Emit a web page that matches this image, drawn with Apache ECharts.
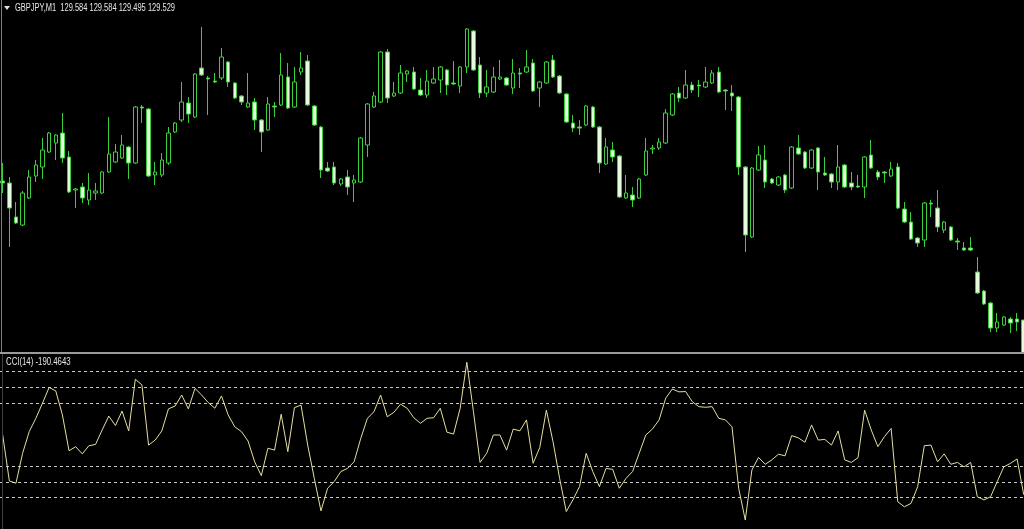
<!DOCTYPE html>
<html>
<head>
<meta charset="utf-8">
<script src="https://cdn.jsdelivr.net/npm/echarts@6/dist/echarts.min.js"></script>
<style>
html,body{margin:0;padding:0;background:#000;}
#chart{width:1024px;height:529px;}
</style>
</head>
<body>
<div id="chart"></div>
<script>
const symbolLabel = 'GBPJPY,M1';
const lastBarText = ['129.584', '129.584', '129.495', '129.529'];
const cciLabel = 'CCI(14) -190.4643';
const cciLevels = [200, 150, 100, -100, -150, -200];

const opens = [129.723,129.721,129.687,129.679,129.706,129.728,129.737,129.752,129.761,129.771,
129.747,129.714,129.717,129.704,129.711,129.711,129.732,129.742,129.746,129.757,
129.741,129.797,129.795,129.729,129.729,129.741,129.772,129.784,129.801,129.787,
129.836,129.826,129.823,129.826,129.842,129.821,129.808,129.797,129.802,129.784,
129.774,129.798,129.799,129.827,129.797,129.832,129.843,129.798,129.777,129.736,
129.737,129.720,129.727,129.721,129.722,129.759,129.797,129.802,129.852,129.808,
129.811,129.830,129.832,129.814,129.809,129.821,129.824,129.834,129.821,129.818,
129.837,129.873,129.839,129.811,129.812,129.825,129.826,129.816,129.831,129.832,
129.841,129.816,129.821,129.844,129.828,129.810,129.781,129.777,129.779,129.797,
129.777,129.740,129.754,129.748,129.706,129.709,129.706,129.729,129.755,129.756,
129.761,129.789,129.811,129.806,129.819,129.819,129.817,129.821,129.832,129.814,
129.811,129.807,129.737,129.667,129.734,129.744,129.725,129.719,129.729,129.716,
129.756,129.752,129.736,129.756,129.731,129.730,129.722,129.739,129.721,129.718,
129.717,129.749,129.732,129.732,129.728,129.737,129.695,129.682,129.666,129.664,
129.701,129.696,129.674,129.677,129.663,129.656,129.656,129.632,129.613,129.601,
129.576,129.579,129.585,129.585,129.584];

const highs = [129.741,129.727,129.702,129.713,129.734,129.744,129.766,129.772,129.770,129.791,
129.753,129.716,129.721,129.731,129.721,129.733,129.787,129.760,129.769,129.758,
129.798,129.799,129.796,129.742,129.751,129.777,129.782,129.822,129.807,129.831,
129.877,129.828,129.831,129.856,129.843,129.822,129.809,129.831,129.806,129.785,
129.807,129.802,129.851,129.841,129.837,129.852,129.849,129.799,129.778,129.742,
129.742,129.726,129.734,129.729,129.767,129.801,129.812,129.853,129.855,129.822,
129.839,129.834,129.837,129.826,129.834,129.837,129.838,129.835,129.843,129.838,
129.876,129.874,129.847,129.834,129.837,129.844,129.827,129.845,129.836,129.854,
129.845,129.823,129.843,129.849,129.829,129.811,129.789,129.784,129.799,129.798,
129.778,129.766,129.762,129.749,129.729,129.717,129.726,129.766,129.759,129.766,
129.795,129.811,129.817,129.834,129.822,129.824,129.837,129.834,129.837,129.815,
129.819,129.808,129.738,129.737,129.758,129.759,129.726,129.728,129.730,129.758,
129.769,129.753,129.755,129.757,129.747,129.731,129.759,129.740,129.732,129.729,
129.748,129.764,129.734,129.733,129.742,129.741,129.702,129.692,129.667,129.702,
129.704,129.714,129.683,129.678,129.666,129.662,129.667,129.647,129.614,129.602,
129.591,129.588,129.587,129.591,129.584];

const lows = [129.711,129.657,129.680,129.678,129.705,129.722,129.725,129.751,129.744,129.741,
129.711,129.696,129.701,129.699,129.704,129.710,129.731,129.741,129.745,129.725,
129.740,129.781,129.727,129.719,129.727,129.739,129.771,129.782,129.781,129.786,
129.828,129.789,129.821,129.824,129.817,129.805,129.799,129.796,129.774,129.752,
129.773,129.787,129.798,129.795,129.796,129.829,129.798,129.778,129.726,129.732,
129.719,129.718,129.709,129.702,129.721,129.747,129.796,129.801,129.801,129.807,
129.810,129.822,129.814,129.808,129.806,129.820,129.811,129.809,129.819,129.811,
129.831,129.833,129.806,129.807,129.811,129.824,129.818,129.810,129.816,129.831,
129.812,129.797,129.820,129.826,129.810,129.781,129.772,129.769,129.778,129.776,
129.731,129.739,129.742,129.706,129.705,129.697,129.705,129.728,129.750,129.754,
129.760,129.788,129.802,129.805,129.811,129.807,129.816,129.820,129.811,129.794,
129.793,129.729,129.652,129.666,129.733,129.716,129.720,129.718,129.711,129.715,
129.749,129.735,129.735,129.714,129.728,129.716,129.714,129.716,129.714,129.716,
129.706,129.735,129.724,129.721,129.727,129.695,129.681,129.664,129.657,129.657,
129.687,129.672,129.671,129.663,129.654,129.653,129.653,129.610,129.599,129.572,
129.572,129.578,129.571,129.573,129.495];

const closes = [129.721,129.696,129.681,129.711,129.727,129.739,129.754,129.771,129.769,129.746,
129.712,129.715,129.706,129.714,129.713,129.732,129.750,129.752,129.759,129.741,
129.797,129.796,129.728,129.732,129.744,129.771,129.781,129.802,129.790,129.830,
129.829,129.825,129.822,129.847,129.822,129.806,129.802,129.801,129.784,129.772,
129.800,129.797,129.829,129.796,129.822,129.836,129.799,129.779,129.734,129.733,
129.721,129.725,129.717,129.724,129.766,129.800,129.808,129.852,129.806,129.811,
129.831,129.833,129.815,129.809,129.823,129.825,129.837,129.819,129.820,129.837,
129.875,129.834,129.811,129.817,129.827,129.827,129.819,129.831,129.830,129.837,
129.813,129.822,129.842,129.827,129.811,129.782,129.776,129.776,129.798,129.777,
129.741,129.757,129.747,129.707,129.711,129.704,129.725,129.753,129.756,129.762,
129.791,129.810,129.806,129.819,129.814,129.818,129.822,129.831,129.812,129.813,
129.808,129.737,129.669,129.736,129.749,129.722,129.721,129.727,129.714,129.757,
129.750,129.736,129.754,129.732,129.729,129.722,129.737,129.717,129.717,129.717,
129.747,129.736,129.727,129.731,129.735,129.696,129.682,129.665,129.661,129.701,
129.700,129.677,129.682,129.664,129.662,129.654,129.654,129.611,129.600,129.576,
129.582,129.587,129.581,129.582,129.529];

const cci = [-1,-147,-154,-59,10,52,100,150,139,63,
-51,-38,-61,-35,-31,15,59,29,75,12,
176,158,-33,-17,12,82,91,126,82,147,
126,102,84,123,63,25,10,-20,-86,-130,
-43,-49,65,-54,86,94,-33,-139,-242,-170,
-149,-117,-107,-86,-12,52,73,126,57,71,
97,84,54,36,52,54,84,8,2,84,
230,73,-88,-59,-1,-1,-49,18,12,47,
-91,-41,78,-22,-139,-244,-207,-165,-59,-117,
-165,-107,-110,-170,-139,-117,-59,-1,18,47,
116,145,136,137,105,89,87,89,52,47,
25,-170,-271,-112,-72,-94,-80,-62,-67,-3,
-10,-24,31,-17,-15,-33,12,-80,-88,-73,
78,15,-38,-6,20,-213,-229,-218,-165,-35,
-33,-86,-61,-94,-88,-102,-88,-197,-207,-197,
-149,-102,-91,-77,-190.4643];

const candleData = opens.map((o, i) => [i, o, closes[i], lows[i], highs[i]]);
const cciData = cci.map((v, i) => [i, v]);

const GREEN = '#3ccf3c';
const chart = echarts.init(document.getElementById('chart'), null, {renderer: 'canvas'});
const xCommon = {type: 'value', min: -0.41, max: 154.04, show: false};
const textFont = '10px "Liberation Sans", Arial, sans-serif';

chart.setOption({
  backgroundColor: '#000000',
  animation: false,
  grid: [
    {left: 0, right: 0, top: 0, height: 352},
    {left: 0, right: 0, top: 354, height: 175}
  ],
  xAxis: [
    Object.assign({gridIndex: 0}, xCommon),
    Object.assign({gridIndex: 1}, xCommon)
  ],
  yAxis: [
    {gridIndex: 0, type: 'value', min: 129.552, max: 129.904, show: false, splitLine: {show: false}},
    {gridIndex: 1, type: 'value', min: -299.4, max: 256.2, show: false, splitLine: {show: false}}
  ],
  series: [
    {
      type: 'candlestick',
      xAxisIndex: 0, yAxisIndex: 0,
      z: 2,
      data: candleData,
      encode: {x: 0, y: [1, 2, 3, 4]},
      barWidth: 4,
      clip: true,
      itemStyle: {
        color: '#000000',
        color0: '#e4fbdc',
        borderColor: GREEN,
        borderColor0: GREEN,
        borderColorDoji: GREEN,
        borderWidth: 1
      }
    },
    {
      type: 'line',
      xAxisIndex: 1, yAxisIndex: 1,
      z: 5,
      data: cciData,
      symbol: 'none',
      clip: true,
      lineStyle: {color: '#e6dea0', width: 1},
      markLine: {
        silent: true,
        symbol: 'none',
        label: {show: false},
        lineStyle: {color: '#c8c8c8', type: [3, 3], width: 1},
        data: cciLevels.map(v => ({yAxis: v}))
      }
    }
  ],
  graphic: [
    {type: 'rect', z: 3, shape: {x: 0, y: 354, width: 1024, height: 175}, style: {fill: '#000000'}, silent: true},
    {type: 'rect', z: 6, shape: {x: 0, y: 352, width: 1024, height: 2}, style: {fill: '#9a9a9a'}, silent: true},
    {type: 'line', z: 6, shape: {x1: 1.5, y1: 0, x2: 1.5, y2: 352}, style: {stroke: '#808080', lineWidth: 1}, silent: true},
    {type: 'line', z: 6, shape: {x1: 2.5, y1: 354, x2: 2.5, y2: 529}, style: {stroke: '#404040', lineWidth: 1}, silent: true},
    {type: 'polygon', z: 6, shape: {points: [[4, 6], [10, 6], [7, 10]]}, style: {fill: '#e0e0e0'}, silent: true},
    {type: 'text', z: 6, x: 15, y: 8, scaleX: 0.75, silent: true,
      style: {text: symbolLabel + '  ' + lastBarText.join(' '), font: textFont, fill: '#e6e6e6', verticalAlign: 'middle', align: 'left'}},
    {type: 'text', z: 6, x: 6, y: 362, scaleX: 0.78, silent: true,
      style: {text: cciLabel, font: textFont, fill: '#e6e6e6', verticalAlign: 'middle', align: 'left'}}
  ]
});
</script>
</body>
</html>
